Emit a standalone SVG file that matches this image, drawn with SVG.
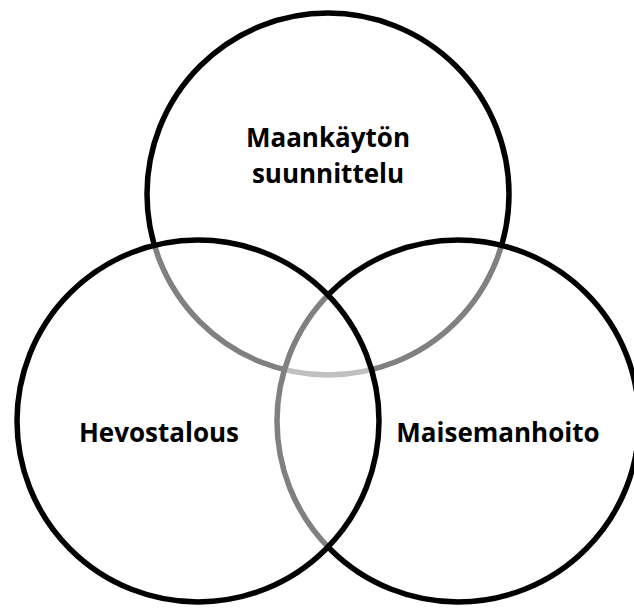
<svg xmlns="http://www.w3.org/2000/svg" width="634" height="608" viewBox="0 0 634 608">
<style>
.c{fill:#fff;fill-opacity:0.5;stroke:#000;stroke-width:5.5}
.t{font-family:"Open Sans","Noto Sans",sans-serif;font-weight:bold;font-size:26px;fill:#000;text-anchor:middle}
</style>
<rect width="634" height="608" fill="#fff"/>
<g id="node-maankaytto">
<circle class="c" cx="328" cy="194" r="181"/>
</g>
<g id="node-maisemanhoito">
<circle class="c" cx="458" cy="421" r="181"/>
</g>
<g id="node-hevostalous">
<circle class="c" cx="198" cy="421" r="181"/>
</g>
<g id="connectors"></g>
<g id="labels">
<text class="t" x="328" y="147">Maankäytön</text>
<text class="t" x="328" y="183">suunnittelu</text>
<text class="t" x="159" y="442">Hevostalous</text>
<text class="t" x="498" y="442">Maisemanhoito</text>
</g>
</svg>
